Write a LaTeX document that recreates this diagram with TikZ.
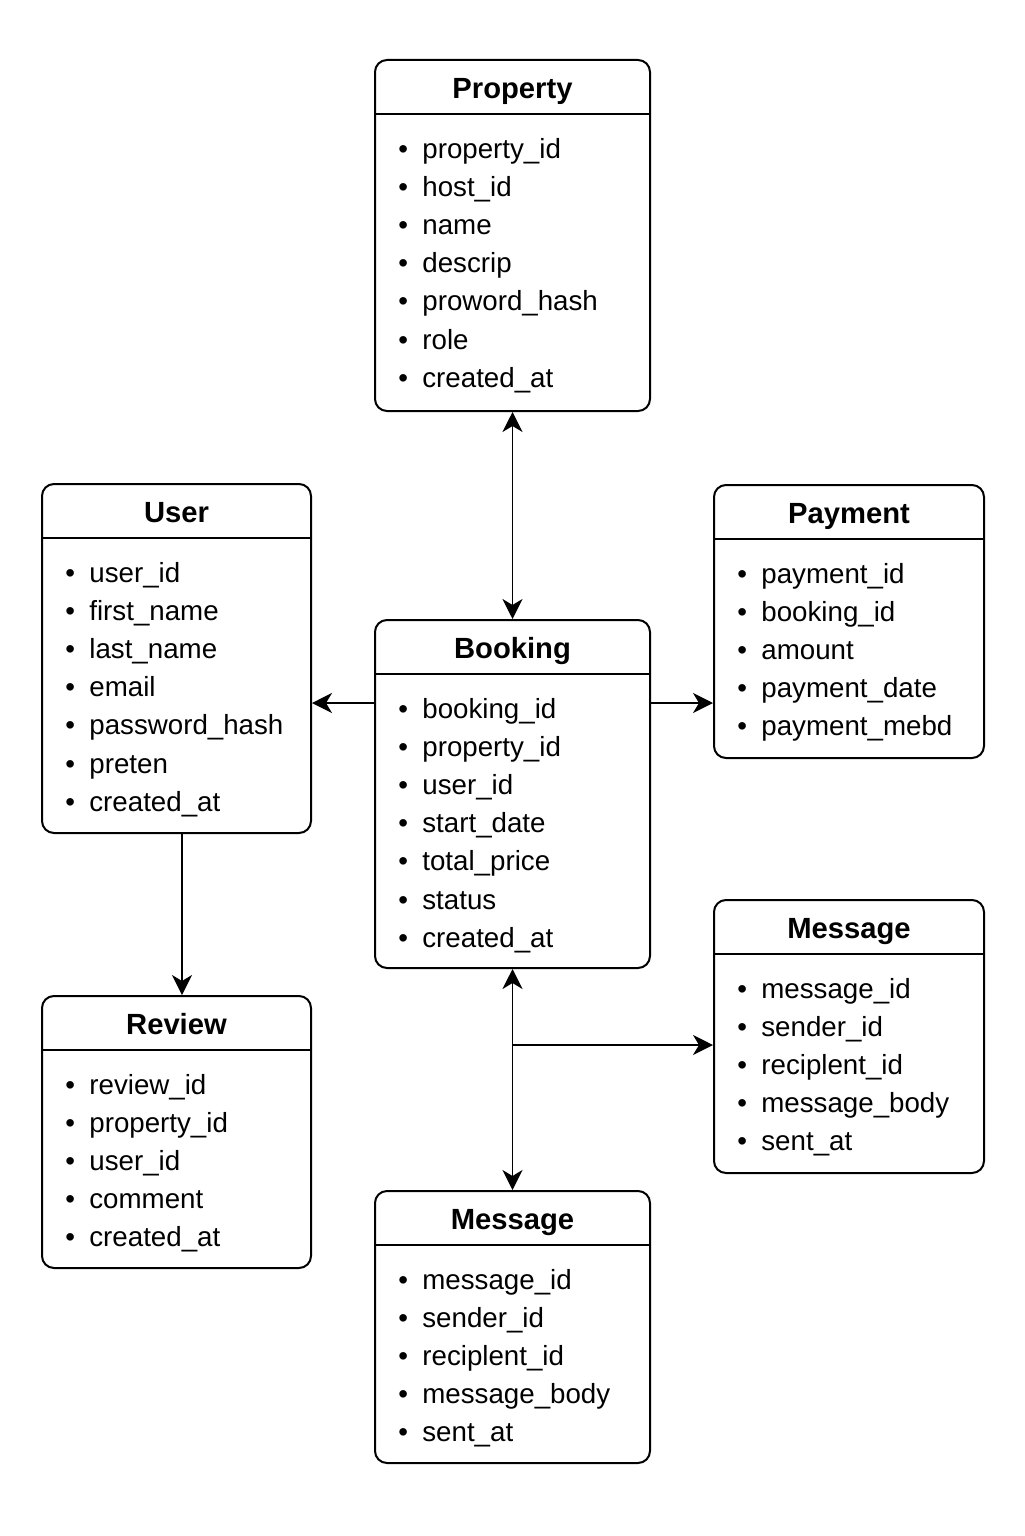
\documentclass[tikz,border=0pt]{standalone}
\usepackage{fontspec}
\setmainfont{Liberation Sans}
\usetikzlibrary{fit,arrows.meta}

\begin{document}
\begin{tikzpicture}[x=0.5pt,y=-0.5pt,>={Stealth[length=10pt,width=10pt,inset=3pt]},
  table/.style={draw,line width=1pt,rounded corners=6pt,inner sep=0pt},
  heading/.style={anchor=base,inner sep=0pt,font=\fontsize{14.6pt}{17pt}\selectfont\bfseries},
  field/.style={anchor=base west,inner sep=0pt,font=\fontsize{13.85pt}{16pt}\selectfont},
  divider/.style={line width=0.75pt},
  link/.style={line width=0.9pt}]
\useasboundingbox (0,0) rectangle (1024,1536);

% Property
\node[table,fit={(375,60) (650,411)}] (property) {};
\node[heading] (property-title) at ([yshift=-19.5pt]property.north) {Property};
\draw[divider] ([yshift=-27.5pt]property.north west) -- ([yshift=-27.5pt]property.north east);
\foreach \f [count=\i] in {property\_id,host\_id,name,descrip,proword\_hash,role,created\_at}
  \node[field] (property-\i) at ([xshift=12pt,yshift={-49.5pt-(\i-1)*19.1pt}]property.north west) {\makebox[12pt][l]{\textbullet}\f};

% User
\node[table,fit={(42,484) (311,833)}] (user) {};
\node[heading] (user-title) at ([yshift=-19.5pt]user.north) {User};
\draw[divider] ([yshift=-27.5pt]user.north west) -- ([yshift=-27.5pt]user.north east);
\foreach \f [count=\i] in {user\_id,first\_name,last\_name,email,password\_hash,preten,created\_at}
  \node[field] (user-\i) at ([xshift=12pt,yshift={-49.5pt-(\i-1)*19.1pt}]user.north west) {\makebox[12pt][l]{\textbullet}\f};

% Payment
\node[table,fit={(714,485) (984,758)}] (payment) {};
\node[heading] (payment-title) at ([yshift=-19.5pt]payment.north) {Payment};
\draw[divider] ([yshift=-27.5pt]payment.north west) -- ([yshift=-27.5pt]payment.north east);
\foreach \f [count=\i] in {payment\_id,booking\_id,amount,payment\_date,payment\_mebd}
  \node[field] (payment-\i) at ([xshift=12pt,yshift={-49.5pt-(\i-1)*19.1pt}]payment.north west) {\makebox[12pt][l]{\textbullet}\f};

% Booking
\node[table,fit={(375,620) (650,968)}] (booking) {};
\node[heading] (booking-title) at ([yshift=-19.5pt]booking.north) {Booking};
\draw[divider] ([yshift=-27.5pt]booking.north west) -- ([yshift=-27.5pt]booking.north east);
\foreach \f [count=\i] in {booking\_id,property\_id,user\_id,start\_date,total\_price,status,created\_at}
  \node[field] (booking-\i) at ([xshift=12pt,yshift={-49.5pt-(\i-1)*19.1pt}]booking.north west) {\makebox[12pt][l]{\textbullet}\f};

% Message (right)
\node[table,fit={(714,900) (984,1173)}] (msgr) {};
\node[heading] (msgr-title) at ([yshift=-19.5pt]msgr.north) {Message};
\draw[divider] ([yshift=-27.5pt]msgr.north west) -- ([yshift=-27.5pt]msgr.north east);
\foreach \f [count=\i] in {message\_id,sender\_id,reciplent\_id,message\_body,sent\_at}
  \node[field] (msgr-\i) at ([xshift=12pt,yshift={-49.5pt-(\i-1)*19.1pt}]msgr.north west) {\makebox[12pt][l]{\textbullet}\f};

% Review
\node[table,fit={(42,996) (311,1268)}] (review) {};
\node[heading] (review-title) at ([yshift=-19.5pt]review.north) {Review};
\draw[divider] ([yshift=-27.5pt]review.north west) -- ([yshift=-27.5pt]review.north east);
\foreach \f [count=\i] in {review\_id,property\_id,user\_id,comment,created\_at}
  \node[field] (review-\i) at ([xshift=12pt,yshift={-49.5pt-(\i-1)*19.1pt}]review.north west) {\makebox[12pt][l]{\textbullet}\f};

% Message (bottom)
\node[table,fit={(375,1191) (650,1463)}] (msgb) {};
\node[heading] (msgb-title) at ([yshift=-19.5pt]msgb.north) {Message};
\draw[divider] ([yshift=-27.5pt]msgb.north west) -- ([yshift=-27.5pt]msgb.north east);
\foreach \f [count=\i] in {message\_id,sender\_id,reciplent\_id,message\_body,sent\_at}
  \node[field] (msgb-\i) at ([xshift=12pt,yshift={-49.5pt-(\i-1)*19.1pt}]msgb.north west) {\makebox[12pt][l]{\textbullet}\f};

% links
\coordinate (side) at ([yshift=-42pt]booking.north);
\coordinate (fork) at ([yshift=-38pt]booking.south);
\draw[link,<->] (property.south) -- (booking.north);
\draw[link,->] (booking.west |- side) -- (user.east |- side);
\draw[link,->] (booking.east |- side) -- (payment.west |- side);
\draw[link,->] ([xshift=2.75pt]user.south) -- ([xshift=2.75pt]review.north);
\draw[link,<->] (booking.south) -- (msgb.north);
\draw[divider,->] (fork) -- (msgr.west |- fork);
\end{tikzpicture}
\end{document}
